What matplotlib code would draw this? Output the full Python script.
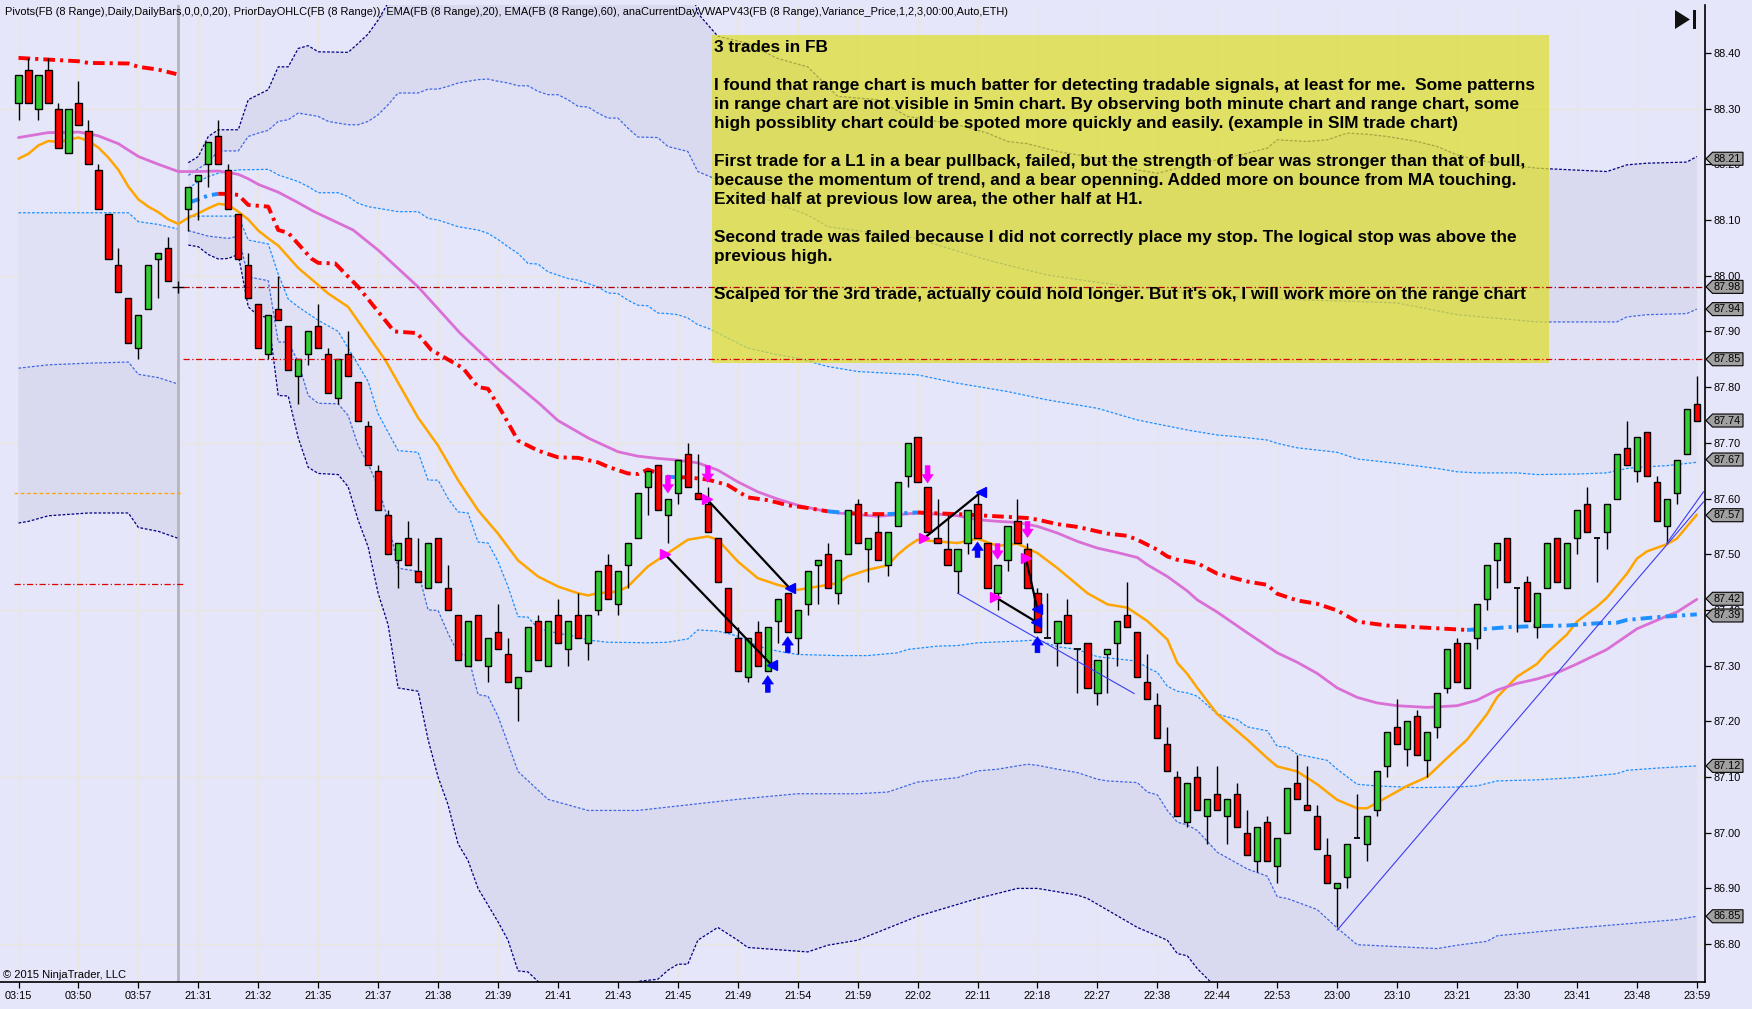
import numpy as np
import matplotlib
matplotlib.use("Agg")
import matplotlib.pyplot as plt
from matplotlib.patches import Polygon, Rectangle
from matplotlib.transforms import IdentityTransform
from matplotlib.ticker import MultipleLocator, FormatStrFormatter

plt.rcParams["font.family"] = ["Liberation Sans", "DejaVu Sans"]

nan = float("nan")

# ================= data (slot index on x, slot 16 = session break, no bar) =================
bar_open = [
    88.31, 88.37, 88.30, 88.37, 88.30, 88.22, 88.31, 88.26, 88.19, 88.11, 88.02, 87.96, 87.87, 87.94, 88.03, 88.05,
    nan,
    88.12, 88.17, 88.20, 88.25, 88.19, 88.11, 88.02, 87.95, 87.86, 87.94, 87.91, 87.82,
    87.86, 87.91, 87.86, 87.78, 87.86, 87.81, 87.73, 87.65, 87.57, 87.49, 87.53, 87.47,
    87.44, 87.53, 87.44, 87.39, 87.30, 87.39, 87.30, 87.36, 87.32, 87.26, 87.29, 87.38,
    87.30, 87.39, 87.33, 87.39, 87.34, 87.40, 87.48, 87.41, 87.48, 87.53, 87.62, 87.66,
    87.57, 87.61, 87.68, 87.61, 87.59, 87.53, 87.44, 87.35, 87.28, 87.36, 87.29, 87.38,
    87.43, 87.35, 87.41, 87.48, 87.50, 87.43, 87.50, 87.59, 87.51, 87.54, 87.48, 87.55,
    87.64, 87.71, 87.62, 87.53, 87.51, 87.47, 87.52, 87.59, 87.52, 87.43, 87.49, 87.56,
    87.51, 87.43, 87.35, 87.34, 87.39, 87.33, 87.34, 87.25, 87.32, 87.34, 87.39, 87.36,
    87.27, 87.23, 87.16, 87.10, 87.02, 87.10, 87.03, 87.07, 87.03, 87.07, 87.00, 86.95,
    87.02, 86.94, 87.00, 87.09, 87.05, 87.03, 86.96, 86.90, 86.92, 86.99, 86.98, 87.04,
    87.12, 87.19, 87.15, 87.21, 87.13, 87.19, 87.26, 87.34, 87.26, 87.35, 87.42, 87.49,
    87.53, 87.44, 87.45, 87.37, 87.44, 87.53, 87.44, 87.53, 87.59, 87.53, 87.54, 87.60,
    87.69, 87.65, 87.72, 87.63, 87.55, 87.61, 87.68, 87.77,
]
bar_high = [
    88.36, 88.39, 88.36, 88.39, 88.31, 88.30, 88.35, 88.28, 88.20, 88.11, 88.05, 87.96, 87.93, 88.02, 88.04, 88.07,
    nan,
    88.16, 88.18, 88.24, 88.28, 88.20, 88.11, 88.04, 87.95, 87.93, 88.00, 87.91, 87.85,
    87.90, 87.95, 87.87, 87.85, 87.90, 87.81, 87.74, 87.66, 87.58, 87.52, 87.56, 87.53,
    87.52, 87.53, 87.48, 87.39, 87.38, 87.39, 87.35, 87.41, 87.35, 87.28, 87.37, 87.39,
    87.38, 87.42, 87.38, 87.43, 87.39, 87.47, 87.50, 87.47, 87.52, 87.61, 87.65, 87.66,
    87.60, 87.67, 87.70, 87.68, 87.62, 87.53, 87.44, 87.37, 87.35, 87.38, 87.37, 87.42,
    87.43, 87.40, 87.47, 87.49, 87.52, 87.49, 87.58, 87.60, 87.53, 87.57, 87.54, 87.63,
    87.70, 87.71, 87.62, 87.60, 87.57, 87.51, 87.58, 87.61, 87.52, 87.48, 87.55, 87.60,
    87.52, 87.44, 87.43, 87.38, 87.42, 87.33, 87.34, 87.31, 87.33, 87.38, 87.45, 87.36,
    87.32, 87.25, 87.19, 87.11, 87.09, 87.12, 87.06, 87.12, 87.06, 87.09, 87.04, 87.01,
    87.03, 86.99, 87.08, 87.14, 87.12, 87.05, 86.99, 86.91, 86.98, 87.07, 87.03, 87.11,
    87.18, 87.24, 87.20, 87.22, 87.18, 87.25, 87.33, 87.35, 87.34, 87.41, 87.48, 87.52,
    87.53, 87.44, 87.46, 87.43, 87.52, 87.53, 87.52, 87.58, 87.62, 87.53, 87.59, 87.68,
    87.74, 87.71, 87.72, 87.64, 87.60, 87.67, 87.76, 87.82,
]
bar_low = [
    88.28, 88.31, 88.28, 88.31, 88.23, 88.22, 88.27, 88.20, 88.12, 88.03, 87.97, 87.88, 87.85, 87.94, 87.96, 87.99,
    nan,
    88.08, 88.10, 88.16, 88.20, 88.12, 88.03, 87.96, 87.87, 87.85, 87.92, 87.83, 87.77,
    87.84, 87.87, 87.79, 87.77, 87.82, 87.74, 87.66, 87.58, 87.50, 87.44, 87.48, 87.45,
    87.44, 87.45, 87.40, 87.31, 87.30, 87.31, 87.27, 87.33, 87.27, 87.20, 87.29, 87.31,
    87.30, 87.34, 87.30, 87.35, 87.31, 87.39, 87.42, 87.39, 87.44, 87.53, 87.57, 87.58,
    87.52, 87.59, 87.62, 87.60, 87.54, 87.45, 87.36, 87.29, 87.27, 87.30, 87.29, 87.34,
    87.36, 87.32, 87.39, 87.41, 87.44, 87.41, 87.50, 87.52, 87.45, 87.49, 87.46, 87.55,
    87.62, 87.63, 87.54, 87.52, 87.48, 87.43, 87.50, 87.53, 87.44, 87.40, 87.47, 87.52,
    87.44, 87.36, 87.35, 87.30, 87.34, 87.25, 87.26, 87.23, 87.25, 87.30, 87.37, 87.28,
    87.24, 87.17, 87.11, 87.03, 87.01, 87.04, 86.98, 87.04, 86.98, 87.01, 86.96, 86.93,
    86.95, 86.91, 87.00, 87.06, 87.04, 86.97, 86.91, 86.83, 86.90, 86.99, 86.95, 87.03,
    87.10, 87.16, 87.12, 87.14, 87.10, 87.17, 87.25, 87.27, 87.26, 87.33, 87.40, 87.44,
    87.45, 87.36, 87.38, 87.35, 87.44, 87.45, 87.44, 87.50, 87.54, 87.45, 87.51, 87.60,
    87.66, 87.63, 87.64, 87.56, 87.52, 87.59, 87.68, 87.74,
]
bar_close = [
    88.36, 88.31, 88.36, 88.31, 88.23, 88.30, 88.27, 88.20, 88.12, 88.03, 87.97, 87.88, 87.93, 88.02, 88.04, 87.99,
    nan,
    88.16, 88.18, 88.24, 88.20, 88.12, 88.03, 87.96, 87.87, 87.93, 87.92, 87.83, 87.85,
    87.90, 87.87, 87.79, 87.85, 87.82, 87.74, 87.66, 87.58, 87.50, 87.52, 87.48, 87.45,
    87.52, 87.45, 87.40, 87.31, 87.38, 87.31, 87.35, 87.33, 87.27, 87.28, 87.37, 87.31,
    87.38, 87.34, 87.38, 87.35, 87.39, 87.47, 87.42, 87.47, 87.52, 87.61, 87.65, 87.58,
    87.60, 87.67, 87.62, 87.60, 87.54, 87.45, 87.36, 87.29, 87.35, 87.30, 87.37, 87.42,
    87.36, 87.40, 87.47, 87.49, 87.44, 87.49, 87.58, 87.52, 87.53, 87.49, 87.54, 87.63,
    87.70, 87.63, 87.54, 87.52, 87.48, 87.51, 87.58, 87.53, 87.44, 87.48, 87.55, 87.52,
    87.44, 87.36, 87.35, 87.38, 87.34, 87.33, 87.26, 87.31, 87.33, 87.38, 87.37, 87.28,
    87.24, 87.17, 87.11, 87.03, 87.09, 87.04, 87.06, 87.04, 87.06, 87.01, 86.96, 87.01,
    86.95, 86.99, 87.08, 87.06, 87.04, 86.97, 86.91, 86.91, 86.98, 86.99, 87.03, 87.11,
    87.18, 87.16, 87.20, 87.14, 87.18, 87.25, 87.33, 87.27, 87.34, 87.41, 87.48, 87.52,
    87.45, 87.44, 87.38, 87.43, 87.52, 87.45, 87.52, 87.58, 87.54, 87.53, 87.59, 87.68,
    87.66, 87.71, 87.64, 87.56, 87.60, 87.67, 87.76, 87.74,
]

time_labels = ["03:15", "03:50", "03:57", "21:31", "21:32", "21:35", "21:37", "21:38", "21:39", "21:41",
               "21:43", "21:45", "21:49", "21:54", "21:59", "22:02", "22:11", "22:18", "22:27", "22:38",
               "22:44", "22:53", "23:00", "23:10", "23:21", "23:30", "23:41", "23:48", "23:59"]

# EMA(20) orange, EMA(60) orchid
ema20_x = [0, 1, 2, 3, 4, 5, 6, 7, 8, 9, 10, 11, 12, 13, 14, 15, 16, 17, 18, 19, 20, 21, 22, 23, 24, 25, 26, 27, 28,
           31, 33, 36.7, 40, 42, 44, 46, 48, 50, 52, 54, 56, 57, 58, 60, 61, 63, 65, 67, 69, 70, 72, 74, 76, 78,
           80, 82, 83, 85, 87, 88, 89, 90, 92, 94, 96, 98, 100, 102, 104, 107, 109, 111, 113, 115, 116, 117, 118,
           120, 123, 125, 126, 128, 130, 132, 134, 135, 137, 139, 141, 143, 145, 147, 148, 150, 152, 153, 155,
           156, 158, 159, 161, 162, 163, 165, 166, 168]
ema20_y = [88.210, 88.219, 88.234, 88.242, 88.240, 88.244, 88.248, 88.242, 88.230, 88.212, 88.190, 88.160, 88.137,
           88.124, 88.114, 88.101, 88.093, 88.104, 88.112, 88.121, 88.129, 88.127, 88.115, 88.101, 88.081, 88.067,
           88.054, 88.034, 88.014, 87.968, 87.944, 87.849, 87.745, 87.695, 87.633, 87.579, 87.537, 87.489, 87.460,
           87.442, 87.430, 87.426, 87.430, 87.433, 87.442, 87.478, 87.502, 87.526, 87.532, 87.526, 87.487, 87.457,
           87.445, 87.436, 87.442, 87.448, 87.460, 87.472, 87.480, 87.499, 87.514, 87.526, 87.523, 87.520, 87.528,
           87.515, 87.519, 87.502, 87.475, 87.430, 87.410, 87.404, 87.380, 87.347, 87.305, 87.285, 87.260, 87.213,
           87.167, 87.134, 87.119, 87.110, 87.087, 87.059, 87.044, 87.044, 87.064, 87.084, 87.100, 87.134, 87.167,
           87.213, 87.243, 87.280, 87.303, 87.323, 87.356, 87.379, 87.406, 87.422, 87.465, 87.492, 87.505, 87.518,
           87.528, 87.571]
ema60_x = [0, 1, 3, 5, 6, 7, 8, 10, 12, 14, 16, 18, 20, 22, 23, 24, 26, 28, 29.6, 33.5, 36, 40, 44.2, 48.1, 52.1,
           54, 57.1, 60, 62, 64, 66, 68, 70, 72, 74, 76, 78, 80, 82, 84, 86, 88, 90, 92, 94, 96, 98, 100, 102, 104,
           106, 108, 110, 112, 113, 115, 117, 118, 120, 123, 126, 128, 130, 132, 134, 136, 138, 141, 144, 146, 148,
           150, 152, 154, 156, 159, 162, 165, 166, 168]
ema60_y = [88.248, 88.251, 88.257, 88.257, 88.258, 88.255, 88.251, 88.237, 88.214, 88.200, 88.187, 88.187, 88.188,
           88.182, 88.174, 88.164, 88.150, 88.131, 88.115, 88.082, 88.046, 87.980, 87.897, 87.831, 87.771, 87.740,
           87.708, 87.684, 87.676, 87.672, 87.669, 87.664, 87.651, 87.630, 87.612, 87.599, 87.588, 87.580, 87.574,
           87.571, 87.568, 87.571, 87.574, 87.572, 87.569, 87.562, 87.559, 87.557, 87.550, 87.538, 87.523, 87.511,
           87.503, 87.494, 87.481, 87.460, 87.434, 87.418, 87.396, 87.359, 87.323, 87.306, 87.286, 87.260, 87.243,
           87.233, 87.228, 87.225, 87.228, 87.238, 87.256, 87.268, 87.276, 87.287, 87.303, 87.329, 87.366, 87.389,
           87.396, 87.419]

# current day VWAP (previous session part and current session part)
vwap_pre_x = [0, 3, 6, 7, 11, 12, 14, 15.8]
vwap_pre_y = [88.391, 88.388, 88.385, 88.382, 88.381, 88.375, 88.370, 88.362]
vwap_x = [17, 18, 19, 20, 21, 22, 23, 25, 26, 27, 28, 29.3, 30, 31.7, 34, 37.6, 39.9, 41.3, 44.5, 46, 47, 48.5, 50,
          52, 54, 56, 58, 59, 61, 62, 63, 65, 66, 67, 69, 71, 73, 75, 77, 79, 81, 83, 85, 87, 88, 89, 90, 91, 94,
          98, 101, 102, 104, 106, 109, 111, 112, 113, 114, 115, 116, 118, 120, 123, 125, 126, 128, 130, 132, 134,
          137, 140, 143, 145, 147, 149, 152, 155, 158, 160, 161, 164, 168]
vwap_y = [88.131, 88.137, 88.144, 88.147, 88.147, 88.145, 88.127, 88.124, 88.082, 88.077, 88.057, 88.031, 88.023,
          88.022, 87.980, 87.900, 87.897, 87.867, 87.834, 87.800, 87.797, 87.752, 87.704, 87.686, 87.674, 87.673,
          87.665, 87.657, 87.645, 87.644, 87.652, 87.639, 87.638, 87.638, 87.634, 87.624, 87.602, 87.597, 87.588,
          87.583, 87.577, 87.574, 87.572, 87.572, 87.573, 87.574, 87.575, 87.574, 87.572, 87.568, 87.565, 87.562,
          87.554, 87.549, 87.537, 87.533, 87.526, 87.517, 87.508, 87.496, 87.490, 87.484, 87.465, 87.451, 87.445,
          87.429, 87.417, 87.411, 87.399, 87.379, 87.372, 87.369, 87.366, 87.364, 87.366, 87.369, 87.371, 87.372,
          87.376, 87.377, 87.382, 87.387, 87.392]

# variance bands, previous session (1, 2, 3 sigma below)
pre_band_x = [0, 1, 3, 7, 11, 12, 14, 15.9]
pre_sd1_y = [88.113, 88.113, 88.113, 88.113, 88.113, 88.097, 88.092, 88.084]
pre_sd2_y = [87.834, 87.836, 87.840, 87.843, 87.845, 87.823, 87.817, 87.806]
pre_sd3_y = [87.556, 87.559, 87.569, 87.574, 87.574, 87.548, 87.541, 87.529]

# variance bands, current session
sd3_up_x = [17, 18, 19, 20, 22, 23, 24, 25, 26, 27, 28, 29, 30, 33, 34, 35, 36, 37, 38, 67, 68, 70, 73, 76, 79, 82,
            86, 89, 94, 97, 99, 101, 104, 108, 112, 114, 116, 118, 120, 123, 125, 126, 129, 131, 133, 135, 137, 140,
            142, 144, 146, 148, 152, 159, 161, 163, 167, 168]
sd3_up_y = [88.203, 88.214, 88.250, 88.262, 88.262, 88.316, 88.325, 88.334, 88.375, 88.375, 88.408, 88.413, 88.402,
            88.401, 88.417, 88.434, 88.459, 88.490, 88.560, 88.540, 88.471, 88.430, 88.417, 88.390, 88.375, 88.322,
            88.316, 88.286, 88.271, 88.256, 88.241, 88.237, 88.223, 88.211, 88.190, 88.184, 88.193, 88.202, 88.208,
            88.220, 88.229, 88.244, 88.241, 88.244, 88.256, 88.254, 88.250, 88.241, 88.232, 88.217, 88.208, 88.202,
            88.193, 88.187, 88.199, 88.202, 88.204, 88.214]
sd2_up_x = [17, 19, 20, 22, 23, 24, 25, 26, 27, 28, 30, 31, 33, 34, 35, 36, 37, 38, 40, 41, 42, 43, 44, 46, 47, 48,
            49, 50, 51, 52, 53, 54, 55, 56, 57, 58, 59, 60, 61, 62, 64, 65, 67, 68, 70, 73, 75, 79, 81, 86, 90, 92,
            97, 103, 110, 117, 123, 135, 138, 144, 152, 160, 161, 163, 167, 168]
sd2_up_y = [88.180, 88.204, 88.224, 88.224, 88.250, 88.256, 88.261, 88.277, 88.280, 88.292, 88.286, 88.277, 88.271,
            88.271, 88.277, 88.289, 88.307, 88.328, 88.328, 88.335, 88.335, 88.340, 88.346, 88.352, 88.353, 88.349,
            88.346, 88.341, 88.341, 88.331, 88.325, 88.325, 88.316, 88.304, 88.303, 88.292, 88.283, 88.283, 88.265,
            88.249, 88.248, 88.232, 88.223, 88.187, 88.172, 88.142, 88.136, 88.109, 88.088, 88.076, 88.067, 88.055,
            88.028, 88.001, 87.983, 87.969, 87.960, 87.953, 87.951, 87.930, 87.917, 87.917, 87.926, 87.930, 87.932,
            87.940]
sd1_up_x = [17, 18, 19, 20, 22, 25, 26, 28, 29, 30, 32, 33, 34, 35, 36, 37, 38, 40, 41, 42, 43, 44, 46, 47, 48, 49,
            50, 51, 52, 53, 54, 55, 56, 57, 58, 59, 60, 61, 62, 63, 64, 65, 66, 67, 68, 69, 70, 73, 76, 78, 81, 84,
            90, 94, 99, 103, 108, 112, 117, 120, 122, 125, 126, 128, 132, 134, 138, 142, 144, 146, 150, 152, 156,
            159, 161, 162, 165, 168]
sd1_up_y = [88.157, 88.169, 88.178, 88.184, 88.190, 88.191, 88.181, 88.169, 88.160, 88.149, 88.149, 88.142, 88.130,
            88.124, 88.121, 88.118, 88.115, 88.115, 88.103, 88.100, 88.094, 88.088, 88.082, 88.076, 88.065, 88.052,
            88.040, 88.022, 88.021, 88.007, 88.001, 87.995, 87.992, 87.986, 87.980, 87.969, 87.968, 87.956, 87.947,
            87.946, 87.933, 87.932, 87.930, 87.924, 87.912, 87.906, 87.897, 87.870, 87.858, 87.852, 87.837, 87.828,
            87.822, 87.807, 87.792, 87.777, 87.762, 87.741, 87.723, 87.714, 87.711, 87.705, 87.699, 87.691, 87.683,
            87.671, 87.663, 87.654, 87.648, 87.646, 87.646, 87.643, 87.644, 87.646, 87.654, 87.656, 87.659, 87.665]
sd1_dn_x = [17, 22, 23, 25, 26, 27, 28, 30, 32, 33, 34, 35, 36, 38, 40, 41, 42, 43, 44, 45, 46, 47, 48, 49, 50, 51,
            52, 54, 56, 57, 59, 63, 65, 67, 68, 70, 72, 74, 76, 78, 82, 85, 88, 89, 92, 94, 96, 100, 102, 104, 106,
            108, 110, 112, 113, 114, 115, 116, 117, 118, 120, 122, 123, 125, 126, 127, 128, 131, 132, 134, 136, 140,
            144, 146, 148, 152, 156, 160, 161, 164, 168]
sd1_dn_y = [88.107, 88.107, 88.064, 88.057, 88.003, 87.958, 87.944, 87.920, 87.900, 87.870, 87.840, 87.810, 87.752,
            87.686, 87.683, 87.633, 87.633, 87.600, 87.576, 87.574, 87.522, 87.520, 87.487, 87.442, 87.388, 87.387,
            87.367, 87.358, 87.352, 87.346, 87.342, 87.341, 87.342, 87.348, 87.364, 87.362, 87.353, 87.335, 87.326,
            87.320, 87.318, 87.318, 87.323, 87.329, 87.335, 87.336, 87.341, 87.344, 87.346, 87.334, 87.329, 87.316,
            87.312, 87.308, 87.296, 87.288, 87.263, 87.254, 87.251, 87.245, 87.213, 87.203, 87.190, 87.183, 87.155,
            87.154, 87.141, 87.130, 87.114, 87.087, 87.084, 87.081, 87.082, 87.084, 87.093, 87.095, 87.099, 87.106,
            87.112, 87.116, 87.120]
sd2_dn_x = [17, 19, 21, 22, 23, 25, 26, 27, 28, 29, 30, 32, 33, 34, 35, 36, 37, 38, 40, 41, 42, 43, 44, 45, 46, 47,
            48, 49, 50, 53, 57, 62, 67, 72, 78, 84, 87, 89, 90, 94, 96, 98, 100, 101, 102, 104, 106, 108, 109, 112,
            113, 114, 115, 116, 117, 118, 120, 123, 125, 126, 127, 130, 132, 134, 142, 144, 147, 148, 152, 156, 160,
            162, 166, 168]
sd2_dn_y = [88.081, 88.071, 88.067, 88.071, 87.998, 87.991, 87.881, 87.881, 87.845, 87.785, 87.771, 87.770, 87.749,
            87.695, 87.662, 87.621, 87.561, 87.475, 87.469, 87.400, 87.399, 87.358, 87.322, 87.318, 87.248, 87.245,
            87.209, 87.160, 87.110, 87.060, 87.040, 87.040, 87.050, 87.060, 87.070, 87.070, 87.073, 87.085, 87.091,
            87.099, 87.111, 87.114, 87.120, 87.123, 87.121, 87.114, 87.108, 87.096, 87.093, 87.090, 87.073, 87.068,
            87.040, 87.019, 87.014, 87.004, 86.965, 86.935, 86.922, 86.885, 86.882, 86.862, 86.829, 86.799, 86.792,
            86.798, 86.805, 86.815, 86.822, 86.829, 86.835, 86.838, 86.844, 86.850]
sd3_dn_x = [17, 18, 19, 20, 21, 22, 23, 24, 25, 26, 27, 28, 29, 30, 32, 33, 34, 35, 36, 37, 38, 40, 41, 42, 43, 44,
            45, 46, 47, 48, 49, 50, 51, 52, 53, 60, 62, 64, 65, 66, 67, 68, 70, 72, 73, 79, 81, 84, 90, 96, 98, 100,
            102, 104, 106, 107, 112, 115, 116, 117, 118, 120, 122, 168]
sd3_dn_y = [88.055, 88.052, 88.038, 88.030, 88.031, 88.038, 87.944, 87.928, 87.925, 87.785, 87.784, 87.709, 87.656,
            87.645, 87.643, 87.621, 87.561, 87.513, 87.430, 87.373, 87.260, 87.254, 87.167, 87.100, 87.050, 86.980,
            86.950, 86.900, 86.870, 86.840, 86.807, 86.752, 86.750, 86.733, 86.680, 86.680, 86.733, 86.737, 86.753,
            86.764, 86.764, 86.807, 86.830, 86.807, 86.794, 86.786, 86.798, 86.807, 86.850, 86.882, 86.891, 86.900,
            86.900, 86.894, 86.888, 86.882, 86.830, 86.807, 86.783, 86.779, 86.756, 86.720, 86.660, 86.660]

# prior day levels
pre_levels = [87.61, 87.447]
session_levels = [87.98, 87.85]

# trade lines (black) start/end, drawn trend lines (blue)
trade_x0 = [64.7, 68.9, 90.67, 97.77, 100.83]
trade_y0 = [87.500, 87.599, 87.529, 87.423, 87.493]
trade_x1 = [75.4, 77.2, 96.33, 101.83, 102.0]
trade_y1 = [87.301, 87.439, 87.611, 87.379, 87.401]
trend_x0 = [94.0, 132.0, 165.0]
trend_y0 = [87.430, 86.825, 87.520]
trend_x1 = [111.67, 168.67, 168.67]
trend_y1 = [87.250, 87.594, 87.612]

# sell (magenta, down) and buy (blue, up) arrows: bar, tail, tip
sell_bar = [65, 69, 91, 98, 101]
sell_tail = [87.641, 87.659, 87.659, 87.519, 87.559]
sell_tip = [87.610, 87.629, 87.628, 87.491, 87.530]
buy_bar = [75, 77, 96, 102]
buy_tail = [87.252, 87.323, 87.494, 87.323]
buy_tip = [87.282, 87.352, 87.522, 87.352]

# right side price markers
marker_vals = [88.21, 87.98, 87.94, 87.85, 87.74, 87.67, 87.57, 87.42, 87.39, 87.12, 86.85]

note_lines = [
    "3 trades in FB",
    "",
    "I found that range chart is much batter for detecting tradable signals, at least for me.  Some patterns",
    "in range chart are not visible in 5min chart. By observing both minute chart and range chart, some",
    "high possiblity chart could be spoted more quickly and easily. (example in SIM trade chart)",
    "",
    "First trade for a L1 in a bear pullback, failed, but the strength of bear was stronger than that of bull,",
    "because the momentum of trend, and a bear openning. Added more on bounce from MA touching.",
    "Exited half at previous low area, the other half at H1.",
    "",
    "Second trade was failed because I did not correctly place my stop. The logical stop was above the",
    "previous high.",
    "",
    "Scalped for the 3rd trade, actually could hold longer. But it's ok, I will work more on the range chart",
]
header = ("Pivots(FB (8 Range),Daily,DailyBars,0,0,0,20), PriorDayOHLC(FB (8 Range)), EMA(FB (8 Range),20), "
          "EMA(FB (8 Range),60), anaCurrentDayVWAPV43(FB (8 Range),Variance_Price,1,2,3,00:00,Auto,ETH)")

# ================= layout =================
W, H = 1752, 1009
bg = "#E6E6FA"
c_sd1, c_sd2, c_sd3 = "#1E90FF", "#4169E1", "#000080"
fill_12, fill_23 = "#E1E1F6", "#D9D9F0"

fig = plt.figure(figsize=(W / 100, H / 100), dpi=100, facecolor=bg)
ax = fig.add_axes([0, 27 / H, 1705 / W, (982 - 5) / H])
ax.set_facecolor(bg)
ax.set_xlim(-1.852, 168.82)
ax.set_ylim(86.732, 88.486)

o = np.array(bar_open); h = np.array(bar_high); l = np.array(bar_low); c = np.array(bar_close)
x = np.arange(len(o))

# grid
xt = np.arange(0, 169, 6)
ax.vlines(xt, 86.0, 89.0, color="#E9E5DF", lw=1.0, zorder=0.5)
ax.hlines(np.arange(86.80, 88.31, 0.30), -5, 175, color="#E9E5DF", lw=1.0, zorder=0.5)


def band_fill(xa, ya, xb, yb, color):
    pts = list(zip(xa, ya)) + list(zip(xb[::-1], yb[::-1]))
    ax.add_patch(Polygon(pts, closed=True, fc=color, ec="none", zorder=1))


band_fill(pre_band_x, pre_sd1_y, pre_band_x, pre_sd2_y, fill_12)
band_fill(pre_band_x, pre_sd2_y, pre_band_x, pre_sd3_y, fill_23)
band_fill(sd1_up_x, sd1_up_y, sd2_up_x, sd2_up_y, fill_12)
band_fill(sd2_up_x, sd2_up_y, sd3_up_x, sd3_up_y, fill_23)
band_fill(sd1_dn_x, sd1_dn_y, sd2_dn_x, sd2_dn_y, fill_12)
band_fill(sd2_dn_x, sd2_dn_y, sd3_dn_x, sd3_dn_y, fill_23)

dash = (0, (2.2, 1.4))
ax.plot(pre_band_x, pre_sd1_y, color=c_sd1, lw=0.9, ls=dash, zorder=2)
ax.plot(pre_band_x, pre_sd2_y, color=c_sd2, lw=0.9, ls=dash, zorder=2)
ax.plot(pre_band_x, pre_sd3_y, color=c_sd3, lw=0.9, ls=dash, zorder=2)
for xs, ys, col in [(sd1_up_x, sd1_up_y, c_sd1), (sd1_dn_x, sd1_dn_y, c_sd1),
                    (sd2_up_x, sd2_up_y, c_sd2), (sd2_dn_x, sd2_dn_y, c_sd2),
                    (sd3_up_x, sd3_up_y, c_sd3), (sd3_dn_x, sd3_dn_y, c_sd3)]:
    ax.plot(xs, ys, color=col, lw=0.9, ls=dash, zorder=2)

# session break
ax.axvline(15.95, color="#B4B4BE", lw=2.0, zorder=1.5)

# prior day levels
ax.hlines(pre_levels[0], -0.45, 16.47, color="#FFA500", lw=0.9, ls=(0, (3, 2)), zorder=3)
ax.hlines(pre_levels[1], -0.45, 16.47, color="#E00000", lw=0.9, ls=(0, (5, 2, 1, 2)), zorder=3)
ax.plot([16], [session_levels[0]], marker="+", ms=9, mew=1.0, color="black", zorder=3)

# EMAs
ax.plot(ema20_x, ema20_y, color="#FFA500", lw=1.8, zorder=3, solid_capstyle="round")
ax.plot(ema60_x, ema60_y, color="#DA70D6", lw=2.0, zorder=3, solid_capstyle="round")


# VWAP: red below price, blue when the bar closes above it
def draw_vwap(xs, ys):
    cols = []
    for i in range(1, len(xs)):
        b = int(round(xs[i]))
        cols.append("#1E90FF" if (not np.isnan(c[b]) and c[b] > ys[i]) else "#FF0000")
    start = 0
    for i in range(1, len(cols) + 1):
        if i == len(cols) or cols[i] != cols[start]:
            ax.plot(xs[start:i + 1], ys[start:i + 1], color=cols[start], lw=2.8,
                    ls=(0, (3.0, 1.3, 0.8, 1.3)), zorder=3.5)
            start = i


draw_vwap(vwap_pre_x, vwap_pre_y)
draw_vwap(vwap_x, vwap_y)

# candles
ok = ~np.isnan(o)
up = ok & (c > o)
dn = ok & (c < o)
fl = ok & (c == o)
ax.vlines(x[ok], l[ok], h[ok], color="black", lw=1.0, zorder=4)
ax.bar(x[up], c[up] - o[up], bottom=o[up], width=0.62, color="#32CD32", edgecolor="black", lw=1.0, zorder=4.5)
ax.bar(x[dn], o[dn] - c[dn], bottom=c[dn], width=0.62, color="#FF0000", edgecolor="black", lw=1.0, zorder=4.5)
ax.hlines(o[fl], x[fl] - 0.31, x[fl] + 0.31, color="black", lw=1.3, zorder=4.5)

# drawn lines and markers
for a, b, cc, d in zip(trade_x0, trade_y0, trade_x1, trade_y1):
    ax.plot([a, cc], [b, d], color="black", lw=1.6, zorder=5)
ax.plot(trade_x0, trade_y0, ls="none", marker=">", ms=6.5, color="#FF00FF", zorder=5.5)
ax.plot(trade_x1, trade_y1, ls="none", marker="<", ms=6.5, color="#0000FF", zorder=5.5)
for a, b, cc, d in zip(trend_x0, trend_y0, trend_x1, trend_y1):
    ax.plot([a, cc], [b, d], color="#3C3CF0", lw=0.8, zorder=5)

astyle = "simple,head_length=0.55,head_width=0.75,tail_width=0.32"
for xb, t0, t1 in zip(sell_bar, sell_tail, sell_tip):
    ax.annotate("", xy=(xb, t1), xytext=(xb, t0), zorder=5.6,
                arrowprops=dict(arrowstyle=astyle, fc="#FF00FF", ec="#FF00FF", lw=0.4,
                                shrinkA=0, shrinkB=0, mutation_scale=11))
for xb, t0, t1 in zip(buy_bar, buy_tail, buy_tip):
    ax.annotate("", xy=(xb, t1), xytext=(xb, t0), zorder=5.6,
                arrowprops=dict(arrowstyle=astyle, fc="#0000FF", ec="#0000FF", lw=0.4,
                                shrinkA=0, shrinkB=0, mutation_scale=11))

# note box
box_x0, box_x1, box_y0, box_y1 = 69.46, 153.16, 87.843, 88.432
ax.add_patch(Rectangle((box_x0, box_y0), box_x1 - box_x0, box_y1 - box_y0,
                       fc="#DEDE30", ec="none", alpha=0.74, zorder=6))
ax.hlines(session_levels[0], 16.47, 175, color="#B00000", lw=0.9, ls=(0, (5, 2, 1, 2)), zorder=6.5)
ax.hlines(session_levels[1], 16.47, 175, color="#E00000", lw=0.9, ls=(0, (5, 2, 1, 2)), zorder=6.5)
for i, line in enumerate(note_lines):
    if line:
        fig.text(714 / W, 1 - (47.7 + 19 * i) / H, line, ha="left", va="center", fontsize=12.45,
                 family=["Liberation Sans Narrow", "Liberation Sans"], fontweight="bold",
                 color="black", zorder=7)

# axes styling
for s in ["left", "top"]:
    ax.spines[s].set_visible(False)
for s in ["right", "bottom"]:
    ax.spines[s].set_color("black")
    ax.spines[s].set_linewidth(1.2)
ax.yaxis.tick_right()
ax.yaxis.set_major_locator(MultipleLocator(0.1))
ax.yaxis.set_major_formatter(FormatStrFormatter("%.2f"))
ax.set_xticks(xt)
ax.set_xticklabels(time_labels)
ax.tick_params(axis="y", direction="out", length=4, width=0.9, labelsize=7.8, pad=2, colors="black")
ax.tick_params(axis="x", direction="out", length=4.5, width=0.9, labelsize=7.8, pad=2, colors="black")

fig.text(5 / W, 1 - 12 / H, header, ha="left", va="center", fontsize=7.95, color="black")
fig.text(3 / W, 1 - 975 / H, "\u00a9 2015 NinjaTrader, LLC", ha="left", va="center", fontsize=8.0, color="black")

# price tags on the axis
fig.canvas.draw()
for v in marker_vals:
    yd = ax.transData.transform((0, v))[1]
    pts = [(1706, yd), (1712.5, yd + 6.5), (1743, yd + 6.5), (1743, yd - 6.5), (1712.5, yd - 6.5)]
    fig.add_artist(Polygon(pts, closed=True, fc="#A0A0A0", ec="black", lw=0.8,
                           transform=IdentityTransform(), zorder=10))
    fig.text(1714 / W, yd / H, f"{v:.2f}", ha="left", va="center", fontsize=7.8, color="black", zorder=11)

# go-to-end icon
fig.add_artist(Polygon([(1675, H - 10), (1675, H - 29), (1690, H - 19.5)], closed=True, fc="#111111",
                       ec="none", transform=IdentityTransform(), zorder=10))
fig.add_artist(Rectangle((1692.5, H - 29), 3.5, 19, fc="#111111", ec="none",
                         transform=IdentityTransform(), zorder=10))

fig.savefig("out.png", dpi=100, facecolor=bg)
